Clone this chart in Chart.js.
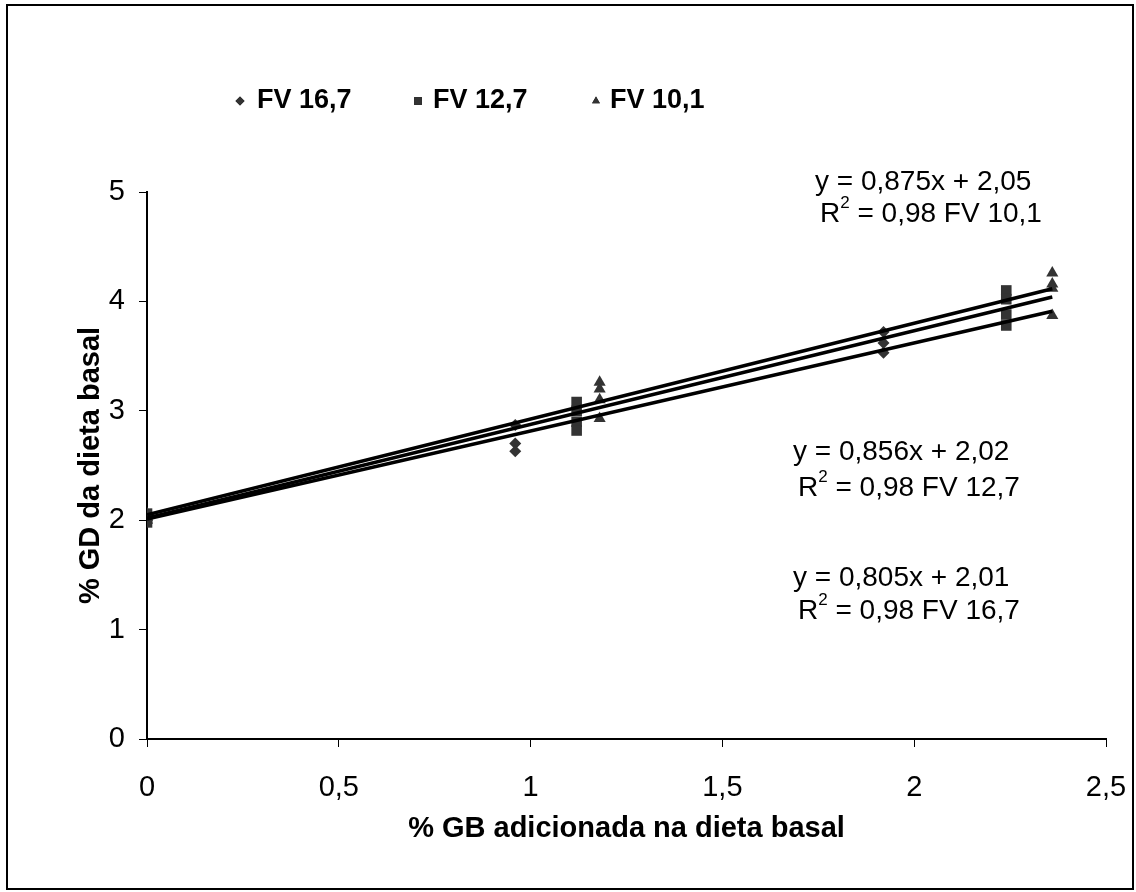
<!DOCTYPE html>
<html>
<head>
<meta charset="utf-8">
<script src="https://cdn.jsdelivr.net/npm/chart.js@4.4.1/dist/chart.umd.min.js"></script>
<style>
  body { margin: 0; background: #fff; }
  #wrap { width: 1136px; height: 892px; }
</style>
</head>
<body>
<div id="wrap"><canvas id="grafico" width="1136" height="892"></canvas></div>
<script>
// dados
const seriesNomes = ['FV 16,7', 'FV 12,7', 'FV 10,1']

const fv167X = [0, 0, 0, 0.96, 0.96, 0.96, 1.92, 1.92, 1.92]
const fv167Y = [2.0, 2.02, 2.04, 2.87, 2.70, 2.63, 3.72, 3.62, 3.53]

const fv127X = [0, 0, 0, 1.12, 1.12, 1.12, 1.12, 2.24, 2.24, 2.24, 2.24]
const fv127Y = [1.98, 2.02, 2.06, 3.08, 3.0, 2.9, 2.82, 4.1, 4.02, 3.88, 3.78]

const fv101X = [0, 0, 0, 1.18, 1.18, 1.18, 1.18, 2.36, 2.36, 2.36, 2.36]
const fv101Y = [2.0, 2.04, 2.06, 3.26, 3.2, 3.1, 2.93, 4.26, 4.16, 4.12, 3.87]

// linhas de tendência (equações do gráfico)
const inclinacoes = [0.805, 0.856, 0.875]
const interceptos = [2.01, 2.02, 2.05]
const xFimLinha = 2.36

const xTickLabels = ['0', '0,5', '1', '1,5', '2', '2,5']
const yTickLabels = ['0', '1', '2', '3', '4', '5']

const equacoes = ['y = 0,805x + 2,01', 'y = 0,856x + 2,02', 'y = 0,875x + 2,05']
const r2Textos = [' = 0,98 FV 16,7', ' = 0,98 FV 12,7', ' = 0,98 FV 10,1']

const corPonto = '#333333'
const fonte = '"Liberation Sans", Arial, sans-serif'

function pontos(xs, ys) {
  return xs.map((x, i) => ({ x: x, y: ys[i] }))
}

const estilos = ['rectRot', 'rect', 'triangle']
const raios = [6, 7.5, 7]
const dadosSeries = [pontos(fv167X, fv167Y), pontos(fv127X, fv127Y), pontos(fv101X, fv101Y)]

let datasets = []
dadosSeries.forEach((d, i) => {
  datasets.push({
    type: 'scatter',
    label: seriesNomes[i],
    data: d,
    pointStyle: estilos[i],
    pointRadius: raios[i],
    backgroundColor: corPonto,
    borderColor: corPonto,
    borderWidth: 0,
    order: 2
  })
})
inclinacoes.forEach((a, i) => {
  datasets.push({
    type: 'line',
    label: 'tendencia ' + seriesNomes[i],
    data: [{ x: 0, y: interceptos[i] }, { x: xFimLinha, y: a * xFimLinha + interceptos[i] }],
    borderColor: '#000',
    borderWidth: 3.5,
    pointRadius: 0,
    fill: false,
    order: 1
  })
})

// legenda e textos das equações
const extras = {
  id: 'extras',
  beforeDraw(chart) {
    const ctx = chart.ctx
    ctx.save()
    ctx.fillStyle = '#fff'
    ctx.fillRect(0, 0, chart.width, chart.height)
    ctx.restore()
  },
  afterDraw(chart) {
    const ctx = chart.ctx
    ctx.save()
    // moldura
    ctx.strokeStyle = '#000'
    ctx.lineWidth = 2
    ctx.strokeRect(7, 5, 1126, 884)

    // legenda
    const legX = [240, 418, 596]
    const legTexto = [257, 433, 610]
    const legRaio = [4.5, 5.5, 4.5]
    seriesNomes.forEach((nome, i) => {
      Chart.helpers.drawPoint(ctx, {
        pointStyle: estilos[i], radius: legRaio[i], borderWidth: 0, rotation: 0
      }, legX[i], 101)
      ctx.fillStyle = corPonto
      ctx.fill()
      ctx.fillStyle = '#000'
      ctx.font = 'bold 27px ' + fonte
      ctx.textBaseline = 'middle'
      ctx.textAlign = 'left'
      ctx.fillText(nome, legTexto[i], 101)
    })

    // equações
    const posEq = [[793, 578, 611], [793, 452, 488], [815, 182, 214]]
    posEq.forEach((p, i) => {
      ctx.fillStyle = '#000'
      ctx.font = '28px ' + fonte
      ctx.textBaseline = 'middle'
      ctx.textAlign = 'left'
      ctx.fillText(equacoes[i], p[0], p[1])
      let x = p[0] + 5
      ctx.fillText('R', x, p[2])
      x += ctx.measureText('R').width
      ctx.font = '17px ' + fonte
      ctx.fillText('2', x, p[2] - 11)
      x += ctx.measureText('2').width
      ctx.font = '28px ' + fonte
      ctx.fillText(r2Textos[i], x, p[2])
    })
    ctx.restore()
  }
}

const ctxGrafico = document.getElementById('grafico')

const config = {
  type: 'scatter',
  data: { datasets: datasets },
  plugins: [extras],
  options: {
    responsive: false,
    animation: false,
    layout: { padding: { top: 192, right: 30, left: 0, bottom: 0 } },
    plugins: {
      legend: { display: false },
      tooltip: { enabled: false }
    },
    scales: {
      x: {
        type: 'linear',
        min: 0,
        max: 2.5,
        afterFit: (s) => { s.height = 153; s.paddingLeft = 0; s.paddingRight = 0 },
        ticks: {
          stepSize: 0.5,
          color: '#000',
          font: { family: fonte, size: 29 },
          padding: 24,
          maxRotation: 0,
          callback: (v, i) => xTickLabels[i]
        },
        grid: { drawOnChartArea: false, drawTicks: true, tickLength: 8, color: '#000', lineWidth: 1 },
        border: { display: true, color: '#000', width: 2 },
        title: {
          display: true,
          text: '% GB adicionada na dieta basal',
          color: '#000',
          font: { family: fonte, size: 29, weight: 'bold' },
          padding: { top: 0, bottom: 46 }
        }
      },
      y: {
        type: 'linear',
        min: 0,
        max: 5,
        afterFit: (s) => { s.width = 147; s.paddingTop = 0; s.paddingBottom = 0 },
        ticks: {
          stepSize: 1,
          color: '#000',
          font: { family: fonte, size: 29 },
          padding: 14,
          callback: (v, i) => yTickLabels[i]
        },
        grid: { drawOnChartArea: false, drawTicks: true, tickLength: 8, color: '#000', lineWidth: 1 },
        border: { display: true, color: '#000', width: 2 },
        title: {
          display: true,
          text: '% GD da dieta basal',
          color: '#000',
          font: { family: fonte, size: 29, weight: 'bold' },
          padding: { top: 74, bottom: 0 }
        }
      }
    }
  }
}

let grafico = new Chart(ctxGrafico, config)
</script>
</body>
</html>
